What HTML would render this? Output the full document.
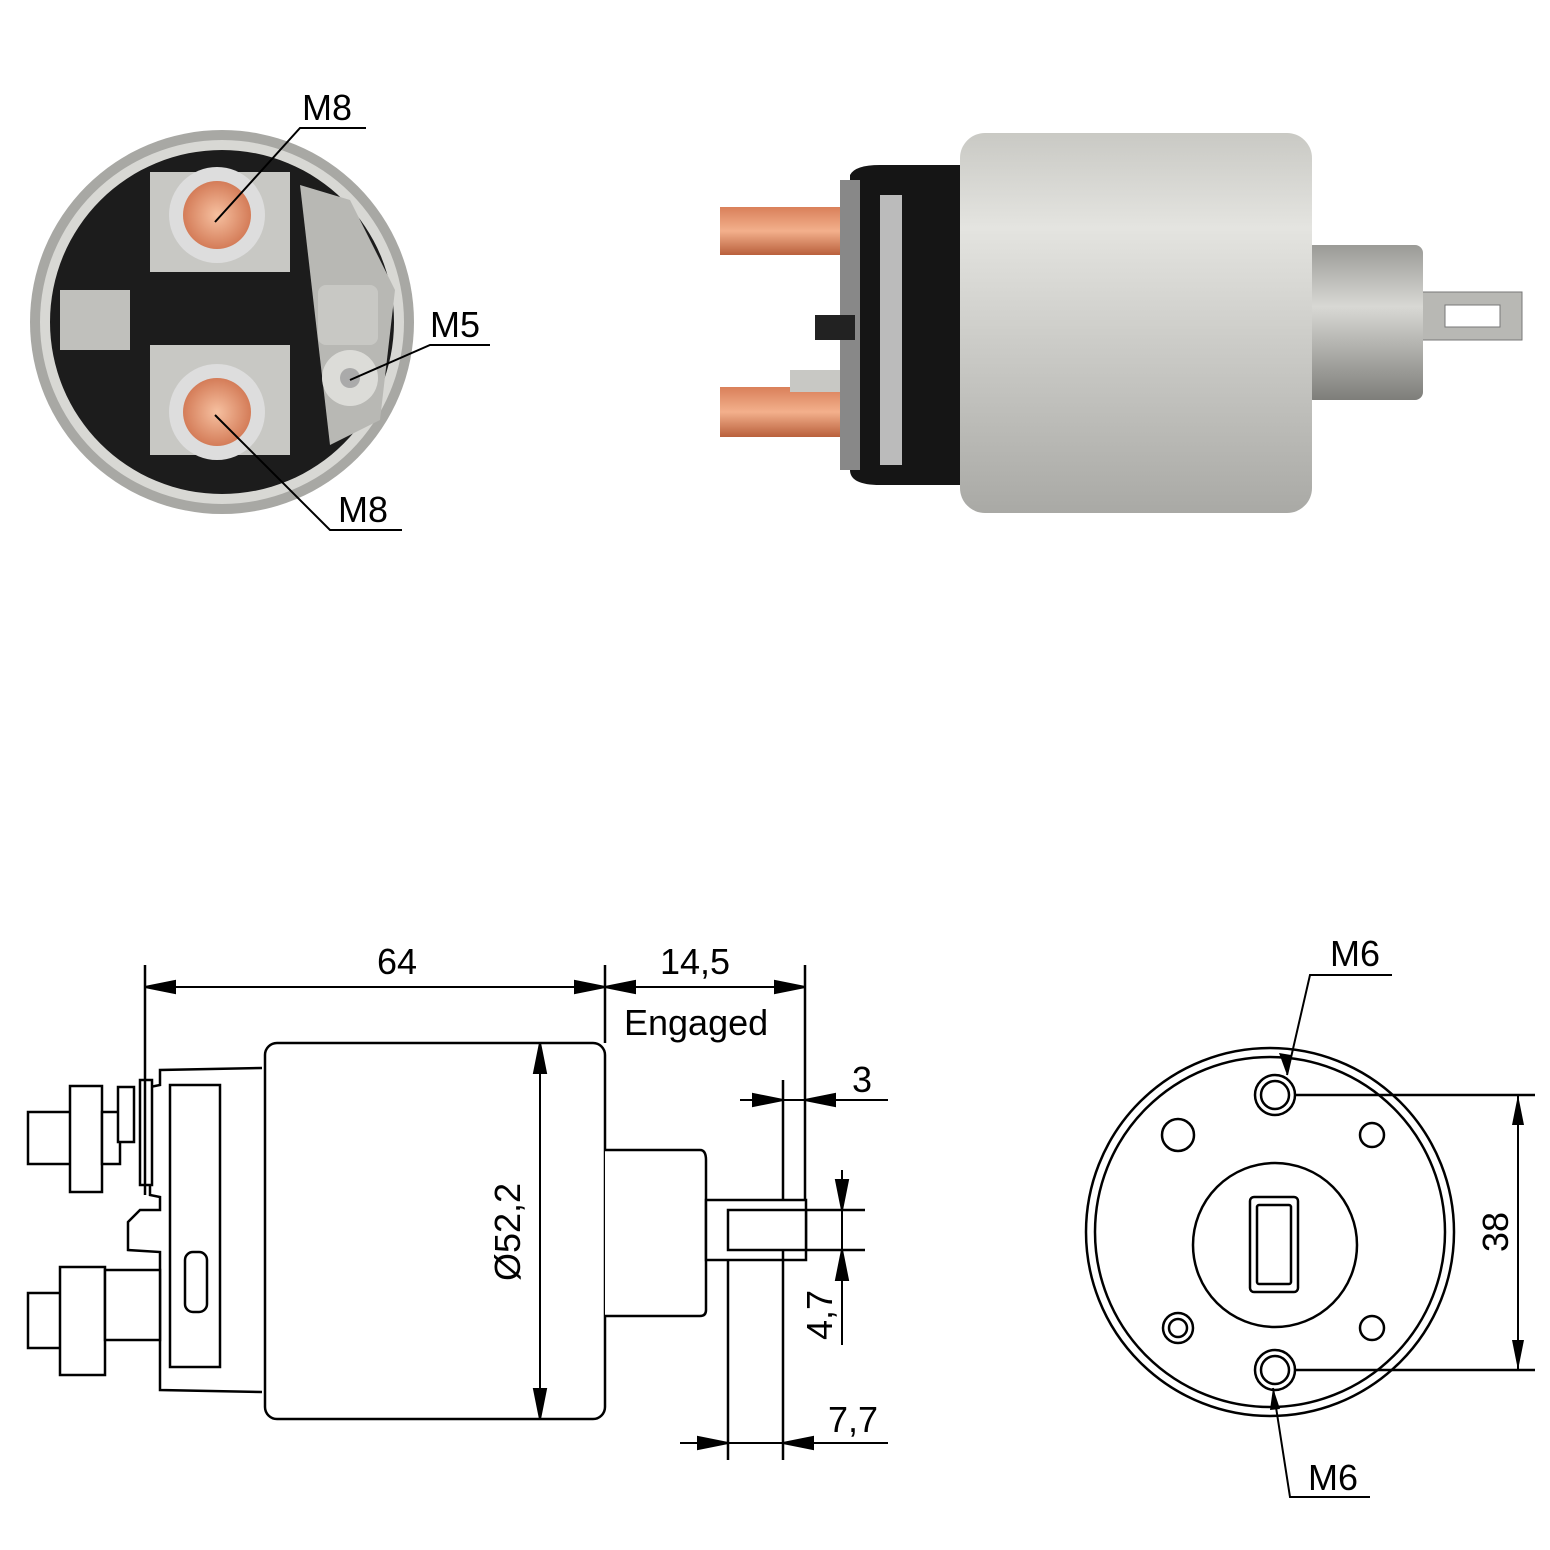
<!DOCTYPE html>
<html><head><style>html,body{margin:0;padding:0;background:#fff}svg{display:block}</style></head>
<body>
<svg width="1550" height="1550" viewBox="0 0 1550 1550" xmlns="http://www.w3.org/2000/svg" font-family="Liberation Sans, sans-serif">
<defs>
<linearGradient id="body" x1="0" y1="0" x2="0" y2="1">
<stop offset="0" stop-color="#c9c9c4"/><stop offset="0.25" stop-color="#e4e4e0"/><stop offset="0.6" stop-color="#c8c8c4"/><stop offset="1" stop-color="#a9a9a5"/></linearGradient>
<linearGradient id="plg" x1="0" y1="0" x2="0" y2="1">
<stop offset="0" stop-color="#9a9a96"/><stop offset="0.4" stop-color="#d8d8d4"/><stop offset="1" stop-color="#7e7e7a"/></linearGradient>
<linearGradient id="cu" x1="0" y1="0" x2="0" y2="1">
<stop offset="0" stop-color="#d9805a"/><stop offset="0.5" stop-color="#f3b08c"/><stop offset="1" stop-color="#b9603c"/></linearGradient>
<radialGradient id="cu2"><stop offset="0" stop-color="#f6c0a0"/><stop offset="1" stop-color="#d47c58"/></radialGradient>
</defs>

<!-- Top-left end view -->
<circle cx="222" cy="322" r="192" fill="#a8a8a4"/>
<circle cx="222" cy="322" r="182" fill="#d8d8d4"/>
<circle cx="222" cy="322" r="172" fill="#1c1c1c"/>
<rect x="150" y="172" width="140" height="100" fill="#c8c8c4"/>
<rect x="150" y="345" width="140" height="110" fill="#c8c8c4"/>
<path d="M300 185 L350 200 L395 290 L380 420 L330 445 Z" fill="#b8b8b4"/>
<rect x="60" y="290" width="70" height="60" fill="#c0c0bc"/>
<rect x="318" y="285" width="60" height="60" rx="8" fill="#c8c8c4"/>
<circle cx="350" cy="378" r="28" fill="#dcdcd8"/><circle cx="350" cy="378" r="10" fill="#aaa"/>
<circle cx="217" cy="215" r="48" fill="#ddd"/><circle cx="217" cy="215" r="34" fill="url(#cu2)"/>
<circle cx="217" cy="412" r="48" fill="#ddd"/><circle cx="217" cy="412" r="34" fill="url(#cu2)"/>
<g stroke="#000" stroke-width="2" fill="none">
<path d="M215 222 L300 128 L366 128"/>
<path d="M350 380 L430 345 L490 345"/>
<path d="M215 415 L330 530 L402 530"/>
</g>
<g font-size="36" fill="#000">
<text x="302" y="120">M8</text><text x="430" y="337">M5</text><text x="338" y="522">M8</text>
</g>

<!-- Top-right photo -->
<rect x="720" y="207" width="125" height="48" fill="url(#cu)"/>
<rect x="720" y="387" width="125" height="50" fill="url(#cu)"/>
<rect x="790" y="370" width="80" height="22" fill="#c8c8c4"/>
<path d="M850 175 Q855 165 880 165 L965 165 L965 485 L880 485 Q850 485 850 470 Z" fill="#151515"/>
<rect x="840" y="180" width="20" height="290" fill="#888"/>
<rect x="880" y="195" width="22" height="270" fill="#bbb"/>
<rect x="815" y="315" width="40" height="25" fill="#222"/>
<rect x="1420" y="292" width="102" height="48" fill="#b8b8b4" stroke="#777"/>
<rect x="1445" y="305" width="55" height="22" fill="#fff" stroke="#777"/>
<rect x="1305" y="245" width="118" height="155" rx="8" fill="url(#plg)"/>
<rect x="960" y="133" width="352" height="380" rx="25" fill="url(#body)"/>

<!-- Bottom-left drawing -->
<g stroke="#000" stroke-width="2.5" fill="#fff">
<rect x="265" y="1043" width="340" height="376" rx="12"/>
<path d="M605 1150 L700 1150 Q706 1150 706 1160 L706 1310 Q706 1316 700 1316 L605 1316"/>
<rect x="706" y="1200" width="100" height="60"/>
<rect x="728" y="1210" width="78" height="40"/>
<path d="M262 1068 L160 1070 L160 1085 L150 1087 L150 1195 L160 1197 L160 1210 L140 1210 L128 1222 L128 1250 L160 1252 L160 1390 L262 1392"/>
<rect x="170" y="1085" width="50" height="282"/>
<rect x="140" y="1080" width="12" height="105"/>
<rect x="28" y="1112" width="44" height="52"/>
<rect x="70" y="1086" width="32" height="106"/>
<rect x="102" y="1112" width="18" height="52"/>
<rect x="118" y="1087" width="16" height="55"/>
<rect x="28" y="1293" width="44" height="55"/>
<rect x="60" y="1267" width="45" height="108"/>
<rect x="105" y="1270" width="55" height="70"/>
<rect x="185" y="1252" width="22" height="60" rx="8"/>
<line x1="145" y1="965" x2="145" y2="1195"/>
<line x1="605" y1="965" x2="605" y2="1043"/>
<line x1="805" y1="965" x2="805" y2="1200"/>
<line x1="783" y1="1080" x2="783" y2="1200"/>
<line x1="728" y1="1260" x2="728" y2="1460"/>
<line x1="783" y1="1250" x2="783" y2="1460"/>
<line x1="806" y1="1210" x2="865" y2="1210"/>
<line x1="806" y1="1250" x2="865" y2="1250"/>
</g>
<g stroke="#000" stroke-width="2" fill="#000">
<line x1="145" y1="987" x2="605" y2="987"/>
<path d="M145 987 l30 -6 v12z M605 987 l-30 -6 v12z"/>
<line x1="605" y1="987" x2="805" y2="987"/>
<path d="M605 987 l30 -6 v12z M805 987 l-30 -6 v12z"/>
<line x1="540" y1="1043" x2="540" y2="1419"/>
<path d="M540 1043 l-6 30 h12z M540 1419 l-6 -30 h12z"/>
<line x1="740" y1="1100" x2="888" y2="1100"/>
<path d="M783 1100 l-30 -6 v12z M805 1100 l30 -6 v12z"/>
<line x1="842" y1="1170" x2="842" y2="1345"/>
<path d="M842 1210 l-6 -30 h12z M842 1250 l-6 30 h12z"/>
<line x1="680" y1="1443" x2="888" y2="1443"/>
<path d="M728 1443 l-30 -6 v12z M783 1443 l30 -6 v12z"/>
</g>
<g font-size="36" fill="#000">
<text x="377" y="974">64</text>
<text x="660" y="974">14,5</text>
<text x="624" y="1035">Engaged</text>
<text x="852" y="1092">3</text>
<text x="828" y="1432">7,7</text>
<text transform="translate(520 1232) rotate(-90)" text-anchor="middle">Ø52,2</text>
<text transform="translate(832 1315) rotate(-90)" text-anchor="middle">4,7</text>
<text transform="translate(1508 1232) rotate(-90)" text-anchor="middle">38</text>
<text x="1330" y="966">M6</text>
<text x="1308" y="1490">M6</text>
</g>

<!-- Bottom-right end view -->
<g stroke="#000" stroke-width="2.5" fill="none">
<circle cx="1270" cy="1232" r="184"/>
<circle cx="1270" cy="1232" r="175"/>
<circle cx="1275" cy="1245" r="82"/>
<rect x="1250" y="1197" width="48" height="95" rx="4"/>
<rect x="1257" y="1205" width="34" height="79" rx="2"/>
<circle cx="1275" cy="1095" r="20"/><circle cx="1275" cy="1095" r="14"/>
<circle cx="1275" cy="1370" r="20"/><circle cx="1275" cy="1370" r="14"/>
<circle cx="1178" cy="1135" r="16"/>
<circle cx="1372" cy="1135" r="12"/>
<circle cx="1178" cy="1328" r="15"/><circle cx="1178" cy="1328" r="9"/>
<circle cx="1372" cy="1328" r="12"/>
<line x1="1295" y1="1095" x2="1535" y2="1095"/>
<line x1="1295" y1="1370" x2="1535" y2="1370"/>
<path d="M1287 1075 L1310 975 L1392 975" stroke-width="2"/>
<path d="M1273 1388 L1290 1497 L1370 1497" stroke-width="2"/>
<line x1="1518" y1="1095" x2="1518" y2="1370" stroke-width="2"/>
</g>
<g fill="#000">
<path d="M1518 1095 l-6 30 h12z M1518 1370 l-6 -30 h12z"/>
<path d="M1287 1075 l-8 -22 l12 2z"/>
<path d="M1273 1388 l-3 22 l10 -1z"/>
</g>
</svg>
</body></html>
